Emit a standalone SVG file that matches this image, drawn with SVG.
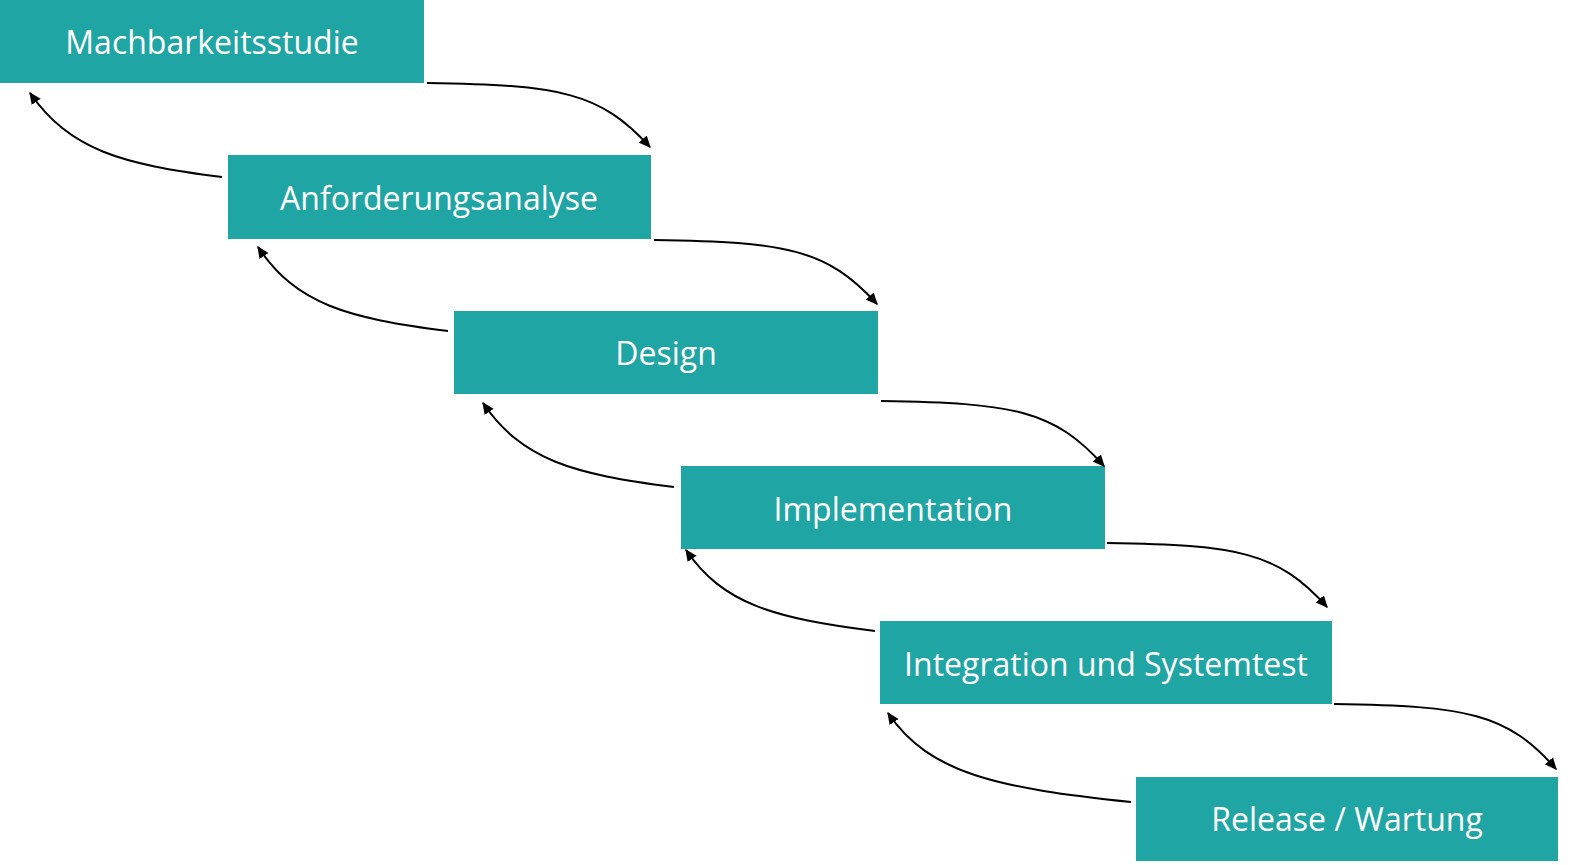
<svg xmlns="http://www.w3.org/2000/svg" width="1570" height="865" viewBox="0 0 1570 865">
<defs>
<marker id="ah" viewBox="0 0 10 10" refX="9" refY="5" markerWidth="6" markerHeight="6" orient="auto" markerUnits="strokeWidth">
<path d="M0,0.5 L10,5 L0,9.5 z" fill="#000"/>
</marker>
<style>
.box{fill:#20a5a5}
.lbl{font-family:"Open Sans","Noto Sans",sans-serif;font-size:32px;fill:#fff;text-anchor:middle;dominant-baseline:central}
.c{fill:none;stroke:#000;stroke-width:2;marker-end:url(#ah)}
</style>
</defs>
<rect width="1570" height="865" fill="#fff"/>
<g id="n1"><rect class="box" x="0" y="0" width="424" height="83"/><text class="lbl" x="212" y="41">Machbarkeitsstudie</text></g>
<g id="n2"><rect class="box" x="228" y="155" width="423" height="84"/><text class="lbl" x="439" y="197">Anforderungsanalyse</text></g>
<g id="n3"><rect class="box" x="454" y="311" width="424" height="83"/><text class="lbl" x="666" y="352">Design</text></g>
<g id="n4"><rect class="box" x="681" y="466" width="424" height="83"/><text class="lbl" x="893" y="508">Implementation</text></g>
<g id="n5"><rect class="box" x="880" y="621" width="452" height="83"/><text class="lbl" x="1106" y="663">Integration und Systemtest</text></g>
<g id="n6"><rect class="box" x="1136" y="777" width="422" height="84"/><text class="lbl" x="1347" y="818">Release / Wartung</text></g>
<g id="connectors">
<path class="c" d="M427,83 C560,85 600,92 650,147"/>
<path class="c" d="M654,240 C787,242 827,249 877,304"/>
<path class="c" d="M881,401 C1014,403 1054,410 1104,466"/>
<path class="c" d="M1107,543 C1238,545 1278,552 1327,607"/>
<path class="c" d="M1334,704 C1467,706 1507,713 1556,769"/>
<path class="c" d="M222,177 C120,164 70,150 30,93"/>
<path class="c" d="M448,331 C346,318 296,304 258,247"/>
<path class="c" d="M674,487 C572,474 522,460 483,403"/>
<path class="c" d="M875,631 C773,618 723,604 686,550"/>
<path class="c" d="M1131,802 C1000,788 930,775 888,713"/>
</g>
</svg>
